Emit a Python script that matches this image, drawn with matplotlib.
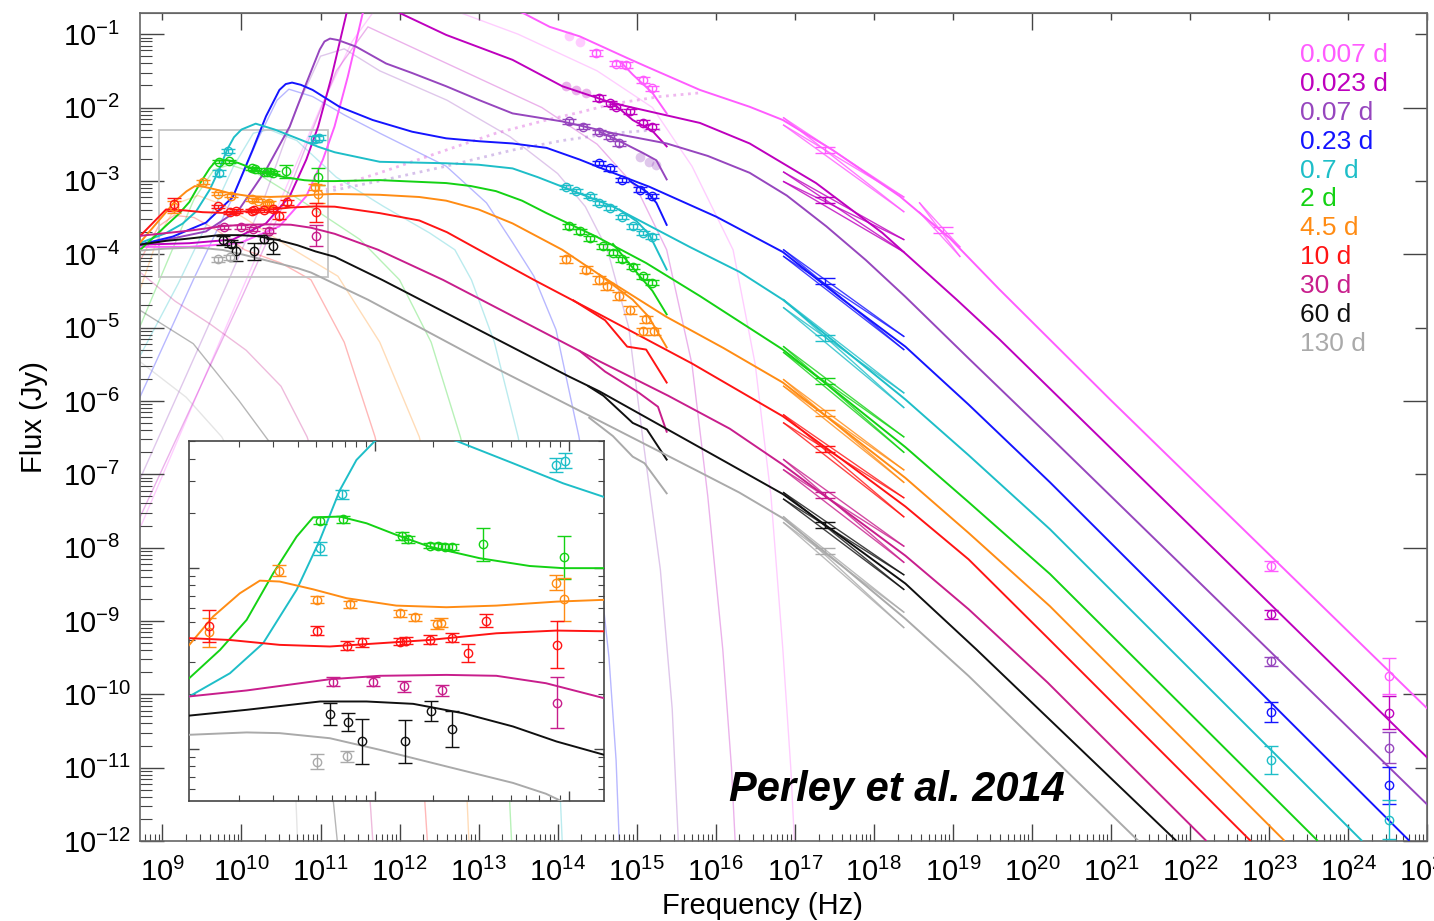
import numpy as np
import matplotlib
matplotlib.use("Agg")
from matplotlib import pyplot as plt
from matplotlib.patches import Rectangle
from matplotlib.ticker import LogLocator, FixedLocator, NullFormatter, LogFormatterSciNotation

plt.rcParams["font.family"] = ["Liberation Sans", "DejaVu Sans"]
plt.rcParams["mathtext.fontset"] = "custom"
plt.rcParams["mathtext.rm"] = "Liberation Sans"
plt.rcParams["mathtext.it"] = "Liberation Sans:italic"
plt.rcParams["mathtext.bf"] = "Liberation Sans:bold"
plt.rcParams["mathtext.default"] = "regular"

# all values are log10(nu / Hz) and log10(F / Jy)
labels = ["0.007 d", "0.023 d", "0.07 d", "0.23 d", "0.7 d", "2 d", "4.5 d", "10 d", "30 d", "60 d", "130 d"]
colors = ["#ff5cff", "#be00be", "#9646be", "#1414ff", "#1ebec8", "#14d214",
          "#ff8c14", "#ff1414", "#c81e8c", "#101010", "#aaaaaa"]

# full model curves
model_007_x = [8.71, 9.34, 9.975, 10.48, 10.819, 11.03, 11.177, 11.345, 11.535, 12.0, 13.56, 13.90, 14.28, 14.87, 15.12, 15.80, 16.43, 16.85, 17.48, 18.33, 18.96, 19.59, 20.99, 25.0]
model_007_y = [-3.90, -3.90, -3.85, -3.62, -3.21, -2.71, -2.26, -1.58, -0.71, -0.2, -0.71, -0.90, -1.03, -1.32, -1.44, -1.76, -1.99, -2.17, -2.58, -3.21, -3.78, -4.48, -5.98, -10.19]
model_023_x = [8.71, 9.34, 9.89, 10.31, 10.61, 10.82, 10.97, 11.14, 11.33, 11.6, 12.0, 12.59, 13.43, 14.06, 14.70, 15.80, 16.43, 17.27, 18.11, 19.05, 19.59, 21.66, 25.0]
model_023_y = [-3.87, -3.85, -3.80, -3.58, -3.21, -2.71, -2.26, -1.58, -0.71, -0.35, -0.71, -1.01, -1.35, -1.71, -1.94, -2.21, -2.49, -3.03, -3.71, -4.62, -5.16, -7.34, -10.86]
model_07_x = [8.71, 9.55, 9.97, 10.31, 10.61, 10.82, 10.99, 11.05, 11.12, 11.22, 11.45, 11.83, 12.16, 12.59, 13.01, 13.43, 14.06, 14.70, 15.38, 15.9, 16.43, 16.9, 17.4, 17.9, 18.4, 19.2, 20.23, 25.0]
model_07_y = [-3.88, -3.69, -3.39, -2.85, -2.26, -1.67, -1.21, -1.10, -1.06, -1.08, -1.17, -1.40, -1.53, -1.71, -1.90, -2.08, -2.19, -2.35, -2.49, -2.66, -2.89, -3.20, -3.62, -4.08, -4.58, -5.42, -6.49, -11.50]
model_23_x = [8.71, 9.13, 9.55, 9.89, 10.14, 10.31, 10.48, 10.56, 10.64, 10.75, 10.90, 11.24, 11.66, 12.16, 12.59, 13.01, 13.43, 13.86, 14.28, 14.70, 15.16, 16.01, 16.85, 17.61, 18.4, 19.2, 20.23, 24.77]
model_23_y = [-3.87, -3.76, -3.57, -3.22, -2.58, -2.12, -1.76, -1.68, -1.66, -1.69, -1.76, -1.99, -2.17, -2.33, -2.42, -2.46, -2.49, -2.55, -2.71, -2.89, -3.08, -3.49, -3.97, -4.62, -5.26, -6.05, -7.11, -11.99]
model_7_x = [8.71, 9.045, 9.254, 9.425, 9.597, 9.717, 9.82, 9.905, 10.0, 10.18, 10.42, 10.71, 10.968, 11.18, 11.75, 12.59, 13.0, 13.43, 13.75, 14.06, 14.70, 15.67, 16.3, 16.85, 17.6, 18.4, 19.2, 20.23, 24.17]
model_7_y = [-3.85, -3.712, -3.584, -3.418, -3.123, -2.847, -2.571, -2.405, -2.30, -2.22, -2.30, -2.423, -2.534, -2.61, -2.74, -2.76, -2.78, -2.83, -2.95, -3.08, -3.35, -3.90, -4.24, -4.62, -5.28, -5.98, -6.74, -7.75, -11.99]
model_2_x = [8.71, 9.045, 9.203, 9.34, 9.477, 9.597, 9.682, 9.82, 9.957, 10.11, 10.28, 10.539, 10.796, 10.968, 11.18, 11.75, 12.59, 12.9, 13.22, 13.55, 13.86, 14.49, 15.12, 15.80, 16.85, 17.6, 18.4, 19.2, 20.23, 23.61]
model_2_y = [-3.95, -3.611, -3.455, -3.289, -3.031, -2.829, -2.722, -2.718, -2.755, -2.819, -2.884, -2.948, -2.991, -3.003, -3.003, -2.99, -3.03, -3.07, -3.14, -3.27, -3.44, -3.76, -4.12, -4.57, -5.30, -5.94, -6.63, -7.38, -8.36, -11.99]
model_45_x = [8.71, 9.045, 9.168, 9.305, 9.408, 9.51, 9.682, 9.854, 10.11, 10.368, 10.625, 10.934, 11.18, 11.75, 12.25, 12.59, 13.0, 13.43, 14.06, 14.53, 15.37, 16.1, 16.85, 17.6, 18.4, 19.2, 20.23, 23.19]
model_45_y = [-3.85, -3.427, -3.27, -3.142, -3.072, -3.077, -3.12, -3.169, -3.21, -3.219, -3.21, -3.188, -3.178, -3.19, -3.22, -3.27, -3.39, -3.58, -3.94, -4.28, -4.85, -5.28, -5.75, -6.38, -7.05, -7.80, -8.80, -11.99]
model_10_x = [8.71, 9.045, 9.254, 9.51, 9.768, 10.025, 10.28, 10.625, 10.934, 11.18, 11.75, 12.25, 12.6, 12.97, 13.7, 14.53, 15.7, 16.85, 17.6, 18.4, 19.2, 20.2, 22.76]
model_10_y = [-3.76, -3.39, -3.40, -3.427, -3.436, -3.418, -3.40, -3.363, -3.348, -3.352, -3.44, -3.54, -3.70, -3.92, -4.35, -4.82, -5.49, -6.21, -6.80, -7.44, -8.16, -9.23, -11.99]
model_30_x = [8.71, 9.045, 9.34, 9.768, 10.025, 10.368, 10.625, 10.88, 11.18, 11.73, 12.55, 14.53, 15.4, 16.18, 16.85, 17.6, 18.4, 19.2, 20.2, 22.2]
model_30_y = [-3.75, -3.712, -3.679, -3.617, -3.598, -3.593, -3.598, -3.639, -3.722, -3.94, -4.35, -5.46, -5.93, -6.38, -6.87, -7.47, -8.11, -8.84, -9.84, -11.99]
model_60_x = [8.71, 9.045, 9.34, 9.717, 9.957, 10.197, 10.454, 10.71, 10.934, 11.18, 11.78, 14.13, 14.53, 16.14, 16.85, 17.6, 18.4, 19.30, 21.82]
model_60_y = [-3.87, -3.818, -3.786, -3.74, -3.74, -3.753, -3.805, -3.878, -3.961, -4.035, -4.35, -5.66, -5.87, -6.84, -7.27, -7.86, -8.49, -9.39, -11.99]
model_130_x = [8.71, 9.045, 9.34, 9.51, 9.768, 10.025, 10.368, 10.71, 10.88, 11.6, 13.23, 14.58, 15.76, 16.3, 16.85, 17.6, 18.4, 19.2, 21.34]
model_130_y = [-3.95, -3.924, -3.911, -3.915, -3.943, -4.007, -4.099, -4.19, -4.25, -4.62, -5.56, -6.30, -6.95, -7.25, -7.60, -8.25, -8.97, -9.75, -11.99]

# extinguished optical branches
ext_007_x = [14.8, 14.95, 15.2, 15.38]
ext_007_y = [-1.38, -1.55, -1.80, -2.08]
ext_023_x = [14.70, 14.95, 15.2, 15.38]
ext_023_y = [-1.94, -2.17, -2.32, -2.53]
ext_07_x = [14.53, 14.75, 15.08, 15.25, 15.38]
ext_07_y = [-2.33, -2.44, -2.62, -2.72, -2.98]
ext_23_x = [14.91, 15.13, 15.25, 15.38]
ext_23_y = [-3.00, -3.15, -3.30, -3.60]
ext_7_x = [14.78, 15.0, 15.16, 15.38]
ext_7_y = [-3.39, -3.55, -3.73, -4.21]
ext_2_x = [14.70, 15.04, 15.2, 15.38]
ext_2_y = [-3.86, -4.30, -4.50, -4.82]
ext_45_x = [14.53, 14.95, 15.15, 15.38]
ext_45_y = [-4.28, -4.62, -4.85, -5.27]
ext_10_x = [14.2, 14.6, 14.88, 15.12, 15.38]
ext_10_y = [-4.63, -4.90, -5.26, -5.30, -5.75]
ext_30_x = [14.28, 14.6, 15.03, 15.27, 15.38]
ext_30_y = [-5.32, -5.60, -5.89, -6.08, -6.42]
ext_60_x = [14.39, 14.58, 14.95, 15.13, 15.38]
ext_60_y = [-5.80, -5.93, -6.30, -6.39, -6.80]
ext_130_x = [14.4, 14.7, 14.95, 15.1, 15.38]
ext_130_y = [-6.23, -6.48, -6.76, -6.85, -7.26]

# faint single components
comp_007_x = [8.71, 10.06, 10.6, 11.0, 11.4, 11.8, 12.5, 13.5, 14.5, 15.2, 15.7, 16.22, 16.5, 16.7, 16.85, 16.95, 17.01]
comp_007_y = [-7.75, -4.35, -3.0, -2.0, -1.1, -0.5, -0.6, -1.0, -1.5, -2.0, -2.8, -3.94, -5.5, -7.3, -9.39, -11.0, -12.3]
comp_023_x = [8.71, 10.0, 10.5, 10.9, 11.2, 11.6, 12.2, 13.0, 13.8, 14.5, 15.0, 15.38, 15.7, 15.9, 16.09, 16.2, 16.26]
comp_023_y = [-7.6, -4.6, -3.4, -2.3, -1.5, -0.9, -1.2, -1.6, -2.0, -2.5, -3.1, -3.94, -5.5, -7.3, -9.39, -11.0, -12.3]
comp_07_x = [8.71, 9.84, 10.3, 10.7, 11.0, 11.3, 11.75, 12.6, 13.4, 14.0, 14.35, 14.63, 14.9, 15.08, 15.3, 15.45, 15.54]
comp_07_y = [-7.08, -4.35, -3.2, -2.0, -1.3, -1.2, -1.5, -1.9, -2.4, -2.9, -3.35, -3.94, -5.0, -6.53, -8.3, -10.2, -12.3]
comp_23_x = [8.71, 9.39, 9.9, 10.2, 10.45, 10.6, 10.9, 11.3, 11.75, 12.59, 13.1, 13.43, 13.7, 13.98, 14.27, 14.5, 14.65, 14.74, 14.79]
comp_23_y = [-5.96, -4.35, -3.2, -2.45, -1.9, -1.75, -1.85, -2.1, -2.35, -2.80, -3.3, -3.84, -4.3, -5.03, -6.49, -8.0, -9.5, -10.9, -12.3]
comp_7_x = [8.71, 9.2, 9.6, 9.9, 10.15, 10.35, 10.7, 11.2, 11.8, 12.38, 12.7, 12.91, 13.2, 13.5, 13.75, 13.92, 14.01, 14.07]
comp_7_y = [-5.4, -4.4, -3.5, -2.8, -2.35, -2.3, -2.45, -2.95, -3.35, -3.71, -3.94, -4.35, -5.2, -6.49, -7.9, -9.4, -10.8, -12.3]
comp_2_x = [8.71, 9.1, 9.4, 9.65, 9.85, 10.2, 10.8, 11.5, 12.0, 12.4, 12.77, 13.05, 13.25, 13.36, 13.43]
comp_2_y = [-5.0, -4.0, -3.25, -2.85, -2.78, -2.9, -3.3, -3.8, -4.35, -5.2, -6.49, -7.8, -9.3, -10.7, -12.3]
comp_45_x = [8.71, 8.95, 9.2, 9.45, 9.75, 10.1, 10.6, 11.22, 11.75, 12.25, 12.5, 12.7, 12.82, 12.89]
comp_45_y = [-4.5, -3.75, -3.3, -3.2, -3.32, -3.55, -3.9, -4.3, -5.2, -6.49, -7.7, -9.2, -10.6, -12.3]
comp_10_x = [8.71, 8.95, 9.15, 9.4, 9.7, 10.04, 10.5, 10.88, 11.3, 11.69, 11.95, 12.15, 12.28, 12.37]
comp_10_y = [-4.1, -3.62, -3.47, -3.5, -3.68, -3.94, -4.12, -4.35, -5.2, -6.49, -7.8, -9.3, -10.8, -12.3]
comp_30_x = [8.71, 9.16, 9.6, 10.06, 10.5, 10.83, 11.1, 11.3, 11.47, 11.6, 11.68]
comp_30_y = [-4.24, -4.64, -4.95, -5.31, -5.8, -6.49, -7.4, -8.5, -9.7, -11.0, -12.3]
comp_60_x = [8.71, 9.39, 9.97, 10.34, 10.6, 10.8, 10.98, 11.11, 11.24]
comp_60_y = [-4.76, -5.22, -6.0, -6.54, -7.3, -8.5, -9.7, -10.9, -12.3]
comp_130_x = [8.71, 9.30, 9.75, 10.05, 10.3, 10.5, 10.6, 10.67, 10.72]
comp_130_y = [-5.46, -5.95, -6.49, -7.1, -7.9, -9.1, -9.9, -10.9, -12.3]

# dotted forward-shock curves (early epochs)
dot_a_x = [11.07, 11.75, 12.59, 13.22, 13.86, 14.3, 14.7, 15.3, 15.8]
dot_a_y = [-3.12, -2.89, -2.58, -2.35, -2.17, -2.06, -1.95, -1.85, -1.80]
dot_b_x = [11.07, 11.75, 12.59, 13.43, 14.06, 14.7, 15.3]
dot_b_y = [-3.15, -3.00, -2.80, -2.58, -2.45, -2.35, -2.30]

# optical / NIR photometry
opt_007_x = [14.49, 14.74, 14.87, 15.08, 15.20]
opt_007_y = [-1.26, -1.40, -1.42, -1.62, -1.74]
opt_023_x = [14.53, 14.66, 14.74, 14.91, 15.08, 15.20]
opt_023_y = [-1.87, -1.94, -1.99, -2.05, -2.21, -2.26]
opt_07_x = [14.15, 14.32, 14.53, 14.66, 14.78]
opt_07_y = [-2.19, -2.26, -2.33, -2.40, -2.49]
opt_23_x = [14.53, 14.66, 14.82, 15.04, 15.20]
opt_23_y = [-2.76, -2.83, -2.99, -3.12, -3.21]
opt_7_x = [14.11, 14.23, 14.41, 14.53, 14.66, 14.82, 14.95, 15.08, 15.20]
opt_7_y = [-3.08, -3.14, -3.21, -3.30, -3.37, -3.49, -3.62, -3.71, -3.76]
opt_2_x = [14.15, 14.28, 14.41, 14.57, 14.70, 14.82, 14.95, 15.08, 15.20]
opt_2_y = [-3.62, -3.69, -3.78, -3.89, -3.98, -4.07, -4.17, -4.30, -4.39]
opt_45_x = [14.11, 14.36, 14.53, 14.63, 14.78, 14.92, 15.12, 15.08, 15.22]
opt_45_y = [-4.07, -4.21, -4.35, -4.44, -4.57, -4.76, -4.89, -5.05, -5.05]
opt_err = [0.04, 0.035, 0.03, 0.03, 0.03, 0.035, 0.05]

# unused (greyed) optical points
dim_007_x = [14.15, 14.28]
dim_007_y = [-1.03, -1.10]
dim_023_x = [14.11, 14.23, 14.36]
dim_023_y = [-1.71, -1.76, -1.80]
dim_07_x = [15.04, 15.16, 15.25]
dim_07_y = [-2.67, -2.74, -2.78]

# radio / mm photometry
radio_7_x = [9.717, 9.833, 10.934, 10.976]
radio_7_y = [-2.893, -2.595, -2.433, -2.409]
radio_7_e = [0.037, 0.025, 0.04, 0.04]
radio_2_x = [9.717, 9.837, 10.137, 10.171, 10.282, 10.325, 10.359, 10.394, 10.557, 10.973]
radio_2_y = [-2.740, -2.733, -2.825, -2.843, -2.878, -2.880, -2.884, -2.887, -2.871, -2.943]
radio_2_e = [0.02, 0.02, 0.02, 0.02, 0.015, 0.015, 0.015, 0.015, 0.09, 0.12]
radio_45_x = [9.148, 9.508, 9.700, 9.871, 10.128, 10.205, 10.317, 10.342, 10.934, 10.973]
radio_45_y = [-3.357, -3.016, -3.178, -3.202, -3.252, -3.274, -3.313, -3.304, -3.083, -3.175]
radio_45_e = [0.08, 0.03, 0.02, 0.02, 0.02, 0.02, 0.025, 0.025, 0.04, 0.12]
radio_10_x = [9.148, 9.700, 9.854, 9.931, 10.128, 10.162, 10.282, 10.394, 10.479, 10.570, 10.939]
radio_10_y = [-3.322, -3.348, -3.431, -3.412, -3.409, -3.403, -3.399, -3.388, -3.473, -3.293, -3.427]
radio_10_e = [0.09, 0.025, 0.025, 0.025, 0.02, 0.02, 0.025, 0.025, 0.05, 0.035, 0.13]
radio_30_x = [9.785, 9.988, 10.150, 10.346, 10.939]
radio_30_y = [-3.630, -3.630, -3.657, -3.679, -3.746]
radio_30_e = [0.025, 0.025, 0.03, 0.03, 0.14]
radio_60_x = [9.768, 9.862, 9.931, 10.154, 10.288, 10.394]
radio_60_y = [-3.810, -3.854, -3.961, -3.961, -3.795, -3.893]
radio_60_e = [0.06, 0.05, 0.125, 0.12, 0.055, 0.1]
radio_130_x = [9.700, 9.854]
radio_130_y = [-4.072, -4.044]
radio_130_e = [0.04, 0.03]

# X-ray bow-ties (nan = no X-ray spectrum)
xrt_band = [16.86, 18.38]
xrt_left_hi = [-2.14, -2.88, np.nan, -3.94, -4.62, -5.26, -5.71, -6.19, -6.80, -7.25, -7.58]
xrt_left_lo = [-2.24, -3.01, np.nan, -4.03, -4.73, -5.34, -5.80, -6.30, -6.94, -7.34, -7.66]
xrt_right_hi = [-3.22, -3.80, np.nan, -5.12, -5.89, -6.49, -6.94, -7.32, -7.98, -8.37, -8.88]
xrt_right_lo = [-3.42, -3.97, np.nan, -5.30, -6.09, -6.70, -7.11, -7.58, -8.20, -8.57, -9.09]
xrt_pivot_x = 17.38
xrt_pivot_y = [-2.58, -3.26, np.nan, -4.37, -5.14, -5.73, -6.17, -6.66, -7.28, -7.69, -8.05]
# BAT bow-tie for the first epoch
bat_band = [18.58, 19.09]
bat_left = [-3.30, -3.43]
bat_right = [-3.90, -4.03]
bat_pivot = [18.87, -3.67]

# LAT points for the first five epochs
lat_x = [23.03, 24.52]
lat1_y = [-8.25, -8.91, -9.55, -10.24, -10.90]
lat1_e = [0.07, 0.06, 0.06, 0.14, 0.19]
lat2_y = [-9.75, -10.25, -10.73, -11.24, -11.71]
lat2_e = [0.24, 0.22, 0.21, 0.25, 0.27]

# inset window and the box marking it
inset_xlim = [9.045, 11.18]
inset_ylim = [-4.29, -2.30]
box_x = [8.96, 11.10]
box_y = [-4.31, -2.31]

models = [(model_007_x, model_007_y), (model_023_x, model_023_y), (model_07_x, model_07_y),
          (model_23_x, model_23_y), (model_7_x, model_7_y), (model_2_x, model_2_y),
          (model_45_x, model_45_y), (model_10_x, model_10_y), (model_30_x, model_30_y),
          (model_60_x, model_60_y), (model_130_x, model_130_y)]
exts = [(ext_007_x, ext_007_y), (ext_023_x, ext_023_y), (ext_07_x, ext_07_y),
        (ext_23_x, ext_23_y), (ext_7_x, ext_7_y), (ext_2_x, ext_2_y),
        (ext_45_x, ext_45_y), (ext_10_x, ext_10_y), (ext_30_x, ext_30_y),
        (ext_60_x, ext_60_y), (ext_130_x, ext_130_y)]
comps = [(comp_007_x, comp_007_y), (comp_023_x, comp_023_y), (comp_07_x, comp_07_y),
         (comp_23_x, comp_23_y), (comp_7_x, comp_7_y), (comp_2_x, comp_2_y),
         (comp_45_x, comp_45_y), (comp_10_x, comp_10_y), (comp_30_x, comp_30_y),
         (comp_60_x, comp_60_y), (comp_130_x, comp_130_y)]
opticals = [(opt_007_x, opt_007_y), (opt_023_x, opt_023_y), (opt_07_x, opt_07_y),
            (opt_23_x, opt_23_y), (opt_7_x, opt_7_y), (opt_2_x, opt_2_y), (opt_45_x, opt_45_y)]
dims = [(dim_007_x, dim_007_y), (dim_023_x, dim_023_y), (dim_07_x, dim_07_y)]
radios = {4: (radio_7_x, radio_7_y, radio_7_e), 5: (radio_2_x, radio_2_y, radio_2_e),
          6: (radio_45_x, radio_45_y, radio_45_e), 7: (radio_10_x, radio_10_y, radio_10_e),
          8: (radio_30_x, radio_30_y, radio_30_e), 9: (radio_60_x, radio_60_y, radio_60_e),
          10: (radio_130_x, radio_130_y, radio_130_e)}


def lin(v):
    return np.power(10.0, np.asarray(v, dtype=float))


def draw_points(ax, lx, ly, le, color, ms=6, cap=5, z=6):
    x, y = lin(lx), lin(ly)
    e = np.asarray(le, dtype=float)
    ax.errorbar(x, y, yerr=[y - y / 10 ** e, y * 10 ** e - y], fmt="o", ms=ms,
                mfc="none", mec=color, mew=1.0, ecolor=color, elinewidth=1.0,
                capsize=cap, capthick=1.0, zorder=z)


def bowtie(ax, band, left, right, color):
    for l0 in left:
        for r0 in right:
            ax.plot(lin(band), lin([l0, r0]), color=color, lw=1.0, alpha=0.8, zorder=4)


fig = plt.figure(figsize=(14.34, 9.21), dpi=100)
ax = fig.add_axes([0.0973, 0.0869, 0.8978, 0.8994])
ax.set_xscale("log")
ax.set_yscale("log")

# Faint components
for (cx, cy), col in zip(comps, colors):
    ax.plot(lin(cx), lin(cy), color=col, lw=1.0, alpha=0.3, zorder=1)

ax.plot(lin(dot_a_x), lin(dot_a_y), color="#e070e0", lw=2.0, ls=":", alpha=0.5, zorder=1)
ax.plot(lin(dot_b_x), lin(dot_b_y), color="#9966cc", lw=2.0, ls=":", alpha=0.4, zorder=1)

# Models
for (mx, my), (ex, ey), col in zip(models, exts, colors):
    ax.plot(lin(mx), lin(my), color=col, lw=1.4, zorder=3)
    ax.plot(lin(ex), lin(ey), color=col, lw=1.4, zorder=3)

# Optical points
for i, (ox, oy) in enumerate(opticals):
    draw_points(ax, ox, oy, opt_err[i], colors[i])
for i, (dx, dy) in enumerate(dims):
    ax.plot(lin(dx), lin(dy), "o", ms=7, color=colors[i], alpha=0.3, mew=0, zorder=2)

# X-ray bow-ties
for i, col in enumerate(colors):
    if np.isnan(xrt_pivot_y[i]):
        continue
    bowtie(ax, xrt_band, [xrt_left_hi[i], xrt_left_lo[i]], [xrt_right_hi[i], xrt_right_lo[i]], col)
    y = 10 ** xrt_pivot_y[i]
    ax.errorbar([10 ** xrt_pivot_x], [y], yerr=[[y - y / 10 ** 0.04], [y * 10 ** 0.04 - y]],
                fmt="none", ecolor=col, elinewidth=1.0, capsize=7, capthick=1.0, zorder=5)
bowtie(ax, bat_band, bat_left, bat_right, colors[0])
yb = 10 ** bat_pivot[1]
ax.errorbar([10 ** bat_pivot[0]], [yb], yerr=[[yb - yb / 10 ** 0.04], [yb * 10 ** 0.04 - yb]],
            fmt="none", ecolor=colors[0], elinewidth=1.0, capsize=7, capthick=1.0, zorder=5)

# LAT
for i in range(len(lat1_y)):
    draw_points(ax, [lat_x[0]], [lat1_y[i]], [lat1_e[i]], colors[i])
    draw_points(ax, [lat_x[1]], [lat2_y[i]], [lat2_e[i]], colors[i])

# Radio
for i, (rx, ry, re) in radios.items():
    draw_points(ax, rx, ry, re, colors[i])

ax.add_patch(Rectangle((10 ** box_x[0], 10 ** box_y[0]), 10 ** box_x[1] - 10 ** box_x[0],
                       10 ** box_y[1] - 10 ** box_y[0], fill=False, ec="#c4c4c4", lw=1.3, zorder=2))

ax.set_xlim(10 ** 8.71, 1e25)
ax.set_ylim(1e-12, 10 ** -0.706)

spine_col = "#666666"
for s in ax.spines.values():
    s.set_color(spine_col)
    s.set_linewidth(1.2)

ax.xaxis.set_major_locator(FixedLocator(lin(np.arange(9, 26))))
ax.xaxis.set_minor_locator(LogLocator(base=10, subs=np.arange(2, 10), numticks=400))
ax.xaxis.set_minor_formatter(NullFormatter())
ax.xaxis.set_major_formatter(LogFormatterSciNotation())
ax.yaxis.set_major_locator(FixedLocator(lin(np.arange(-12, 0))))
ax.yaxis.set_minor_locator(LogLocator(base=10, subs=np.arange(2, 10), numticks=400))
ax.yaxis.set_minor_formatter(NullFormatter())
ax.yaxis.set_major_formatter(LogFormatterSciNotation())
ax.tick_params(axis="x", which="major", direction="in", length=12, width=1.0, color="#444444",
               labelsize=21, pad=12, top=False)
ax.tick_params(axis="x", which="minor", direction="in", length=5, width=0.8, color="#444444", top=False)
ax.tick_params(axis="y", which="major", direction="in", length=17, width=1.0, color="#444444",
               labelsize=21, pad=55, right=False)
ax.tick_params(axis="y", which="minor", direction="in", length=8.5, width=0.8, color="#444444", right=False)
plt.setp(ax.get_yticklabels(), ha="left")

top = ax.secondary_xaxis("top")
top.xaxis.set_major_locator(FixedLocator([1e10, 1e15, 1e20]))
top.xaxis.set_minor_locator(FixedLocator(lin(np.arange(9, 26))))
top.xaxis.set_major_formatter(NullFormatter())
top.xaxis.set_minor_formatter(NullFormatter())
top.tick_params(which="major", direction="in", length=12, width=1.0, color="#444444")
top.tick_params(which="minor", direction="in", length=5, width=1.0, color="#444444")
top.spines["top"].set_color(spine_col)

right = ax.secondary_yaxis("right")
right.yaxis.set_major_locator(FixedLocator(lin(np.arange(-12, 0, 2))))
right.yaxis.set_minor_locator(FixedLocator(lin(np.arange(-11, 0, 2))))
right.yaxis.set_major_formatter(NullFormatter())
right.yaxis.set_minor_formatter(NullFormatter())
right.tick_params(which="major", direction="in", length=17, width=1.0, color="#444444")
right.tick_params(which="minor", direction="in", length=9, width=1.0, color="#444444")
right.spines["right"].set_color(spine_col)

ax.set_xlabel("Frequency (Hz)", fontsize=21)
ax.xaxis.set_label_coords(0.484, -0.062)
ax.set_ylabel("Flux (Jy)", fontsize=21)
ax.yaxis.set_label_coords(-0.071, 0.512)

for i, (lab, col) in enumerate(zip(labels, colors)):
    ax.text(0.9013, 0.949 - 0.0349 * i, lab, color=col, fontsize=19,
            transform=ax.transAxes, ha="left", va="center")

ax.text(0.458, 0.048, "Perley et al. 2014", fontsize=30, fontweight="bold", fontstyle="italic",
        transform=ax.transAxes, ha="left", va="baseline")

# Inset: radio zoom for the later epochs
axin = fig.add_axes([0.1320, 0.1303, 0.2894, 0.3909])
axin.set_facecolor("white")
axin.set_xscale("log")
axin.set_yscale("log")
for i in range(4, len(labels)):
    mx, my = models[i]
    axin.plot(lin(mx), lin(my), color=colors[i], lw=1.4, zorder=3)
    rx, ry, re = radios[i]
    draw_points(axin, rx, ry, re, colors[i], ms=6, cap=5)
axin.set_xlim(10 ** inset_xlim[0], 10 ** inset_xlim[1])
axin.set_ylim(10 ** inset_ylim[0], 10 ** inset_ylim[1])
for s in axin.spines.values():
    s.set_color("#444444")
    s.set_linewidth(1.2)
axin.xaxis.set_major_locator(FixedLocator([1e10, 1e11]))
axin.xaxis.set_minor_locator(LogLocator(base=10, subs=np.arange(2, 10), numticks=100))
axin.yaxis.set_major_locator(FixedLocator([1e-4, 1e-3]))
axin.yaxis.set_minor_locator(LogLocator(base=10, subs=np.arange(2, 10), numticks=100))
axin.xaxis.set_major_formatter(NullFormatter())
axin.xaxis.set_minor_formatter(NullFormatter())
axin.yaxis.set_major_formatter(NullFormatter())
axin.yaxis.set_minor_formatter(NullFormatter())
axin.tick_params(which="major", direction="in", length=7, width=1.0, color="#444444",
                 top=True, right=True)
axin.tick_params(which="minor", direction="in", length=4, width=0.8, color="#444444",
                 top=True, right=True)

fig.savefig("out.png", dpi=100)
